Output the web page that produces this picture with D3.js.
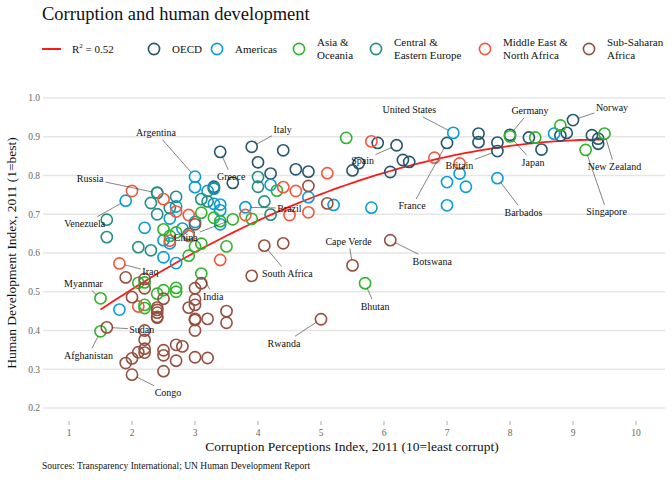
<!DOCTYPE html>
<html>
<head>
<meta charset="utf-8">
<script src="https://cdn.jsdelivr.net/npm/d3@7"></script>
<style>
  body { margin: 0; background: #fff; }
  text { font-family: "Liberation Serif", "DejaVu Serif", serif; }
</style>
</head>
<body>
<div id="chart"></div>
<script>
// values: [country, CPI, HDI]
const oecd = [
  ["Austria", 7.8, .885], ["Belgium", 7.5, .886], ["Britain", 7.8, .863], ["Bulgaria", 3.3, .771],
  ["Cyprus", 6.3, .840], ["Czech Republic", 4.4, .865], ["Denmark", 9.4, .895], ["Estonia", 6.4, .835],
  ["Finland", 9.4, .882], ["France", 7.0, .884], ["Germany", 8.0, .905], ["Greece", 3.4, .861],
  ["Hungary", 4.6, .816], ["Iceland", 8.3, .898], ["Ireland", 7.5, .908], ["Italy", 3.9, .874],
  ["Latvia", 4.2, .805], ["Lithuania", 4.8, .810], ["Luxembourg", 8.5, .867], ["Malta", 5.6, .832],
  ["Netherlands", 8.9, .910], ["Norway", 9.0, .943], ["Poland", 5.5, .813], ["Portugal", 6.1, .809],
  ["Romania", 3.6, .781], ["Slovakia", 4.0, .834], ["Slovenia", 5.9, .884], ["Spain", 6.2, .878],
  ["Sweden", 9.3, .904], ["Switzerland", 8.8, .903]
];
const americas = [
  ["Argentina", 3.0, .797], ["Bahamas", 7.3, .771], ["Barbados", 7.8, .793], ["Bolivia", 2.8, .663],
  ["Brazil", 3.8, .718], ["Canada", 8.7, .908], ["Chile", 7.2, .805], ["Colombia", 3.4, .710],
  ["Costa Rica", 4.8, .744], ["Cuba", 4.2, .776], ["Dominica", 5.2, .724], ["Dominican Republic", 2.6, .689],
  ["Ecuador", 2.7, .720], ["El Salvador", 3.4, .674], ["Guatemala", 2.7, .574], ["Guyana", 2.5, .633],
  ["Haiti", 1.8, .454], ["Honduras", 2.6, .625], ["Jamaica", 3.3, .727], ["Mexico", 3.0, .770],
  ["Nicaragua", 2.5, .589], ["Panama", 3.3, .768], ["Paraguay", 2.2, .665], ["Peru", 3.4, .725],
  ["Saint Lucia", 7.0, .723], ["Saint Vincent", 5.8, .717], ["Suriname", 3.0, .680],
  ["Trinidad and Tobago", 3.2, .760], ["United States", 7.1, .910], ["Uruguay", 7.0, .783],
  ["Venezuela", 1.9, .735]
];
const asia = [
  ["Afghanistan", 1.5, .398], ["Australia", 8.8, .929], ["Bangladesh", 2.7, .500], ["Bhutan", 5.7, .522],
  ["Cambodia", 2.1, .523], ["China", 3.6, .687], ["Hong Kong", 8.4, .898], ["India", 3.1, .547],
  ["Indonesia", 3.0, .617], ["Japan", 8.0, .901], ["Kiribati", 3.1, .624], ["Korea (South)", 5.4, .897],
  ["Laos", 2.2, .524], ["Malaysia", 4.3, .761], ["Maldives", 2.5, .661], ["Mongolia", 2.7, .653],
  ["Myanmar", 1.5, .483], ["Nepal", 2.2, .458], ["New Zealand", 9.5, .908], ["Pakistan", 2.5, .504],
  ["Papua New Guinea", 2.2, .466], ["Philippines", 2.6, .644], ["Samoa", 3.9, .688], ["Singapore", 9.2, .866],
  ["Solomon Islands", 2.7, .510], ["Sri Lanka", 3.3, .691], ["Thailand", 3.4, .682], ["Timor-Leste", 2.4, .495],
  ["Tonga", 3.1, .704], ["Vanuatu", 3.5, .617], ["Vietnam", 2.9, .593]
];
const eastEurope = [
  ["Albania", 3.1, .739], ["Armenia", 2.6, .716], ["Azerbaijan", 2.4, .700], ["Belarus", 2.4, .756],
  ["Bosnia and Herzegovina", 3.2, .733], ["Croatia", 4.0, .796], ["Georgia", 4.1, .733], ["Kazakhstan", 2.7, .745],
  ["Kyrgyzstan", 2.1, .615], ["Moldova", 2.9, .649], ["Montenegro", 4.0, .771], ["Russia", 2.4, .755],
  ["Serbia", 3.3, .766], ["Tajikistan", 2.3, .607], ["Turkey", 4.2, .699], ["Turkmenistan", 1.6, .686],
  ["Ukraine", 2.3, .729], ["Uzbekistan", 1.6, .641]
];
const mena = [
  ["Algeria", 2.9, .698], ["Bahrain", 5.1, .806], ["Egypt", 2.9, .644], ["Iran", 2.7, .707],
  ["Iraq", 1.8, .573], ["Israel", 5.8, .888], ["Jordan", 4.5, .698], ["Kuwait", 4.6, .760],
  ["Lebanon", 2.5, .739], ["Libya", 2.0, .760], ["Morocco", 3.4, .582], ["Oman", 4.8, .705],
  ["Qatar", 7.2, .831], ["Saudi Arabia", 4.4, .770], ["Syria", 2.6, .632], ["Tunisia", 3.8, .698],
  ["United Arab Emirates", 6.8, .846], ["Yemen", 2.1, .462]
];
const ssa = [
  ["Angola", 2.0, .486], ["Benin", 3.0, .427], ["Botswana", 6.1, .633], ["Burkina Faso", 3.0, .331],
  ["Burundi", 1.9, .316], ["Cameroon", 2.5, .482], ["Cape Verde", 5.5, .568], ["Central African Republic", 2.2, .343],
  ["Chad", 2.0, .328], ["Comoros", 2.4, .433], ["Congo", 2.0, .286], ["Congo Republic", 2.2, .533],
  ["Côte d'Ivoire", 2.2, .400], ["Djibouti", 3.0, .430], ["Equatorial Guinea", 1.9, .537], ["Eritrea", 2.5, .349],
  ["Ethiopia", 2.7, .363], ["Gabon", 3.0, .674], ["Gambia", 3.5, .420], ["Ghana", 3.9, .541],
  ["Guinea", 2.1, .344], ["Guinea-Bissau", 2.2, .353], ["Kenya", 2.2, .509], ["Lesotho", 3.5, .450],
  ["Liberia", 3.2, .329], ["Madagascar", 3.0, .480], ["Malawi", 3.0, .400], ["Mali", 2.8, .359],
  ["Mauritania", 2.4, .453], ["Mauritius", 5.1, .728], ["Mozambique", 2.7, .322], ["Namibia", 4.4, .625],
  ["Niger", 2.5, .295], ["Nigeria", 2.4, .459], ["Rwanda", 5.0, .429], ["Sao Tome and Principe", 3.0, .509],
  ["Senegal", 2.9, .459], ["Seychelles", 4.8, .773], ["Sierra Leone", 2.5, .336], ["South Africa", 4.1, .619],
  ["Sudan", 1.6, .408], ["Swaziland", 3.1, .522], ["Tanzania", 3.0, .466], ["Togo", 2.4, .435],
  ["Uganda", 2.4, .446], ["Zambia", 3.2, .430], ["Zimbabwe", 2.2, .376]
];

const regionNames = ["OECD", "Americas", "Asia &\nOceania", "Central &\nEastern Europe",
  "Middle East &\nNorth Africa", "Sub-Saharan\nAfrica"];
const regionData = [oecd, americas, asia, eastEurope, mena, ssa];
const regionColors = ["#24576D", "#099DD7", "#2FB52B", "#248E84", "#F2583F", "#96503F"];

const xTicks = [1, 2, 3, 4, 5, 6, 7, 8, 9, 10];
const yTicks = [0.2, 0.3, 0.4, 0.5, 0.6, 0.7, 0.8, 0.9, 1.0];
const rSquared = "0.52";

// label placement (pixel offset of label centre from its point)
const labelOffsets = {
  "Argentina": [-39, -44], "Russia": [-67, -14], "Venezuela": [-41, 23], "Greece": [11, 25],
  "Italy": [31, -17], "Brazil": [44, 1], "China": [-47, 18], "Iraq": [31, 8],
  "Myanmar": [-17, -15], "India": [12, 23], "South Africa": [23, 28], "Sudan": [35, 2],
  "Afghanistan": [-12, 24], "Congo": [36, 18], "Rwanda": [-37, 24], "Cape Verde": [-4, -24],
  "Bhutan": [10, 23], "Botswana": [42, 21], "United States": [-44, -23], "Spain": [-34, 15],
  "France": [-35, 63], "Britain": [-38, 14], "Germany": [20, -24], "Japan": [23, 26],
  "Barbados": [26, 34], "Norway": [39, -13], "New Zealand": [10, 33], "Singapore": [21, 62]
};

const width = 672, height = 480;
const svg = d3.select("#chart").append("svg")
  .attr("width", width).attr("height", height);

const x = d3.scaleLinear().domain([1, 10]).range([69, 636]);
const y = d3.scaleLinear().domain([0.2, 1.0]).range([408, 98]);
const plotLeft = 43, plotRight = 665;

const points = [];
regionData.forEach((list, i) => list.forEach(d =>
  points.push({ name: d[0], cpi: d[1], hdi: d[2], region: i })));

// title
svg.append("text").attr("x", 42).attr("y", 20)
  .style("font-size", "18.5px").attr("fill", "#111")
  .text("Corruption and human development");

// gridlines + y axis labels
const grid = svg.append("g");
grid.selectAll("line").data(yTicks).join("line")
  .attr("x1", plotLeft).attr("x2", plotRight)
  .attr("y1", d => y(d)).attr("y2", d => y(d))
  .attr("stroke", "#e6e6e6").attr("stroke-width", 1.3);
grid.selectAll("text").data(yTicks).join("text")
  .attr("x", 40).attr("y", d => y(d)).attr("dy", "0.35em")
  .attr("text-anchor", "end")
  .style("font-size", "9.5px").attr("fill", "#666")
  .text(d3.format(".1f"));

// x axis ticks
const xAxis = svg.append("g");
xAxis.selectAll("line").data(xTicks).join("line")
  .attr("x1", d => x(d)).attr("x2", d => x(d))
  .attr("y1", 421).attr("y2", 425)
  .attr("stroke", "#999").attr("stroke-width", 0.8);
xAxis.selectAll("text").data(xTicks).join("text")
  .attr("x", d => x(d)).attr("y", 436)
  .attr("text-anchor", "middle")
  .style("font-size", "9.5px").attr("fill", "#666")
  .text(d => d);

// axis titles
svg.append("text").attr("x", 352).attr("y", 451)
  .attr("text-anchor", "middle").style("font-size", "13.5px").attr("fill", "#111")
  .text("Corruption Perceptions Index, 2011 (10=least corrupt)");
svg.append("text")
  .attr("transform", "translate(16,253) rotate(-90)")
  .attr("text-anchor", "middle").style("font-size", "13.5px").attr("fill", "#111")
  .text("Human Development Index, 2011 (1=best)");

// source
svg.append("text").attr("x", 42).attr("y", 469)
  .style("font-size", "9.5px").attr("fill", "#111")
  .text("Sources: Transparency International; UN Human Development Report");

// trend: least squares fit of hdi on a quadratic in cpi
function fitTrend(data, basis) {
  const n = basis.length;
  const A = d3.range(n).map(() => new Array(n).fill(0));
  const b = new Array(n).fill(0);
  data.forEach(d => {
    const r = basis.map(f => f(d.cpi));
    for (let i = 0; i < n; i++) {
      b[i] += r[i] * d.hdi;
      for (let j = 0; j < n; j++) A[i][j] += r[i] * r[j];
    }
  });
  for (let i = 0; i < n; i++) {
    for (let k = i + 1; k < n; k++) {
      const f = A[k][i] / A[i][i];
      for (let j = i; j < n; j++) A[k][j] -= f * A[i][j];
      b[k] -= f * b[i];
    }
  }
  const c = new Array(n).fill(0);
  for (let i = n - 1; i >= 0; i--) {
    let s = b[i];
    for (let j = i + 1; j < n; j++) s -= A[i][j] * c[j];
    c[i] = s / A[i][i];
  }
  return v => basis.reduce((s, f, i) => s + c[i] * f(v), 0);
}
const trend = fitTrend(points, [v => 1, v => v, v => v * v]);
const [minX, maxX] = d3.extent(points, d => d.cpi);
const trendPts = d3.range(0, 81).map(i => {
  const v = minX + (maxX - minX) * i / 80;
  return [v, trend(v)];
});
svg.append("path").datum(trendPts)
  .attr("fill", "none").attr("stroke", "#FF1A1A").attr("stroke-width", 1.8)
  .attr("d", d3.line().x(d => x(d[0])).y(d => y(d[1])));

// points
svg.append("g").selectAll("circle").data(points).join("circle")
  .attr("cx", d => x(d.cpi)).attr("cy", d => y(d.hdi)).attr("r", 5.6)
  .attr("fill", "none")
  .attr("stroke", d => regionColors[d.region]).attr("stroke-width", 1.6);

// labels with leader lines
const labelled = points.filter(d => labelOffsets[d.name]);
const segG = svg.append("g");
const labG = svg.append("g");
labelled.forEach(d => {
  const px = x(d.cpi), py = y(d.hdi);
  const [dx, dy] = labelOffsets[d.name];
  const t = labG.append("text")
    .attr("x", px + dx).attr("y", py + dy).attr("dy", "0.35em")
    .attr("text-anchor", "middle")
    .style("font-size", "10px").attr("fill", "#111")
    .text(d.name);
  const bb = t.node().getBBox();
  const pad = 1.5;
  const cx = bb.x + bb.width / 2, cy = bb.y + bb.height / 2;
  const hw = bb.width / 2 + pad, hh = bb.height / 2 + pad;
  const vx = px - cx, vy = py - cy;
  const s = Math.min(Math.abs(vx) > 0 ? hw / Math.abs(vx) : Infinity,
                     Math.abs(vy) > 0 ? hh / Math.abs(vy) : Infinity);
  if (s >= 1) return;
  const sx = cx + vx * s, sy = cy + vy * s;
  const len = Math.hypot(px - sx, py - sy);
  const trim = 5.5;
  if (len <= trim + 2) return;
  const ex = px - (px - sx) / len * trim, ey = py - (py - sy) / len * trim;
  segG.append("line")
    .attr("x1", sx).attr("y1", sy).attr("x2", ex).attr("y2", ey)
    .attr("stroke", "#333").attr("stroke-width", 0.6);
});

// legend
const legend = svg.append("g");
legend.append("line").attr("x1", 42).attr("x2", 61).attr("y1", 49).attr("y2", 49)
  .attr("stroke", "#FF1A1A").attr("stroke-width", 2);
const r2 = legend.append("text").attr("x", 72).attr("y", 52.5)
  .style("font-size", "11px").attr("fill", "#111");
r2.append("tspan").text("R");
r2.append("tspan").attr("dy", -5).style("font-size", "7px").text("2");
r2.append("tspan").attr("dy", 5).text(" = " + rSquared);

const legendX = [154, 217, 299, 376, 485, 589];
regionNames.forEach((name, i) => {
  legend.append("circle").attr("cx", legendX[i]).attr("cy", 49).attr("r", 5.6)
    .attr("fill", "none").attr("stroke", regionColors[i]).attr("stroke-width", 1.6);
  const lines = name.split("\n");
  const tx = legend.append("text").attr("x", legendX[i] + 18)
    .style("font-size", "11px").attr("fill", "#111");
  lines.forEach((l, k) => {
    tx.append("tspan").attr("x", legendX[i] + 18)
      .attr("y", 49 + (k - (lines.length - 1) / 2) * 13).attr("dy", "0.35em")
      .text(l);
  });
});
</script>
</body>
</html>
